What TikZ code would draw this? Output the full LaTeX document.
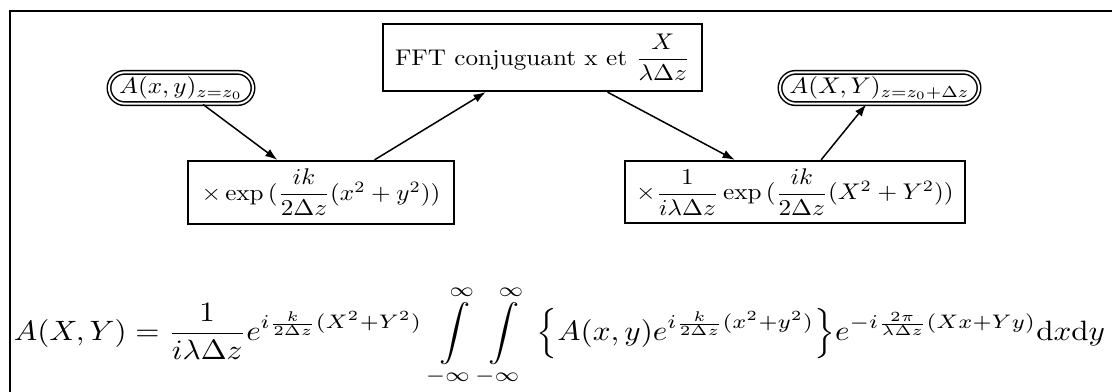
\documentclass[tikz,border=0pt]{standalone}
\usepackage{amsmath}
\usepackage{graphicx}
\usetikzlibrary{shapes.misc,arrows.meta}
\newcommand{\boxtxt}[1]{\scalebox{0.755}[0.68]{#1}}
\tikzset{
  stepbox/.style={draw, line width=0.6pt, inner xsep=0.5pt, inner ysep=1pt},
  endbox/.style={rounded rectangle, draw, double, double distance=0.6pt, line width=0.45pt, inner xsep=0.5pt, inner ysep=0.5pt, minimum height=9.4pt},
  arr/.style={-{Latex[length=3.6pt,width=2.6pt]}, line width=0.45pt},
  frameline/.style={line width=0.7pt}
}
\begin{document}
\begin{tikzpicture}[x=0.3pt,y=-0.3pt]
\useasboundingbox (0,0) rectangle (1112,392);
\coordinate (fb) at (10,400);
\coordinate (fc) at (10,11);
\coordinate (fr) at (1120,11);
\draw[frameline] (fb) -- (fc) -- (fr);

\node[endbox, minimum width=44.2pt] (a0) at (181,88) {\boxtxt{$A(x,y)_{z=z_0}$}};
\node[stepbox, minimum width=79.9pt, minimum height=19pt] (m1) at (321,192.5) {\boxtxt{$\times\exp\,(\dfrac{ik}{2\Delta z}(x^2+y^2))$}};
\node[stepbox, minimum width=95.8pt, minimum height=20.2pt] (fft) at (542.5,57.5) {\boxtxt{FFT conjuguant x et $\dfrac{X}{\lambda\Delta z}$}};
\node[stepbox, minimum width=102.1pt, minimum height=18.7pt] (m2) at (795,192) {\boxtxt{$\times\dfrac{1}{i\lambda\Delta z}\exp\,(\dfrac{ik}{2\Delta z}(X^2+Y^2))$}};
\node[endbox, minimum width=60.7pt] (a1) at (879.5,88) {\boxtxt{$A(X,Y)_{z=z_0+\Delta z}$}};

\draw[arr] (a0) -- (m1);
\draw[arr] (m1) -- (fft);
\draw[arr] (fft) -- (m2);
\draw[arr] (m2) -- (a1);

\node[inner sep=0pt] (eq) at (559.5,336) {\resizebox{327.3pt}{0.84\height}{$\displaystyle A(X,Y) = \frac{1}{i\lambda\Delta z}e^{i\frac{k}{2\Delta z}(X^2+Y^2)}\,\int\limits_{-\infty}^{\infty}\int\limits_{-\infty}^{\infty}\,{\left\{A(x,y)e^{i\frac{k}{2\Delta z}(x^2+y^2)}\right\}}e^{-i\frac{2\pi}{\lambda\Delta z}(Xx+Yy)}\mathrm{d}x\mathrm{d}y$}};
\end{tikzpicture}
\end{document}
